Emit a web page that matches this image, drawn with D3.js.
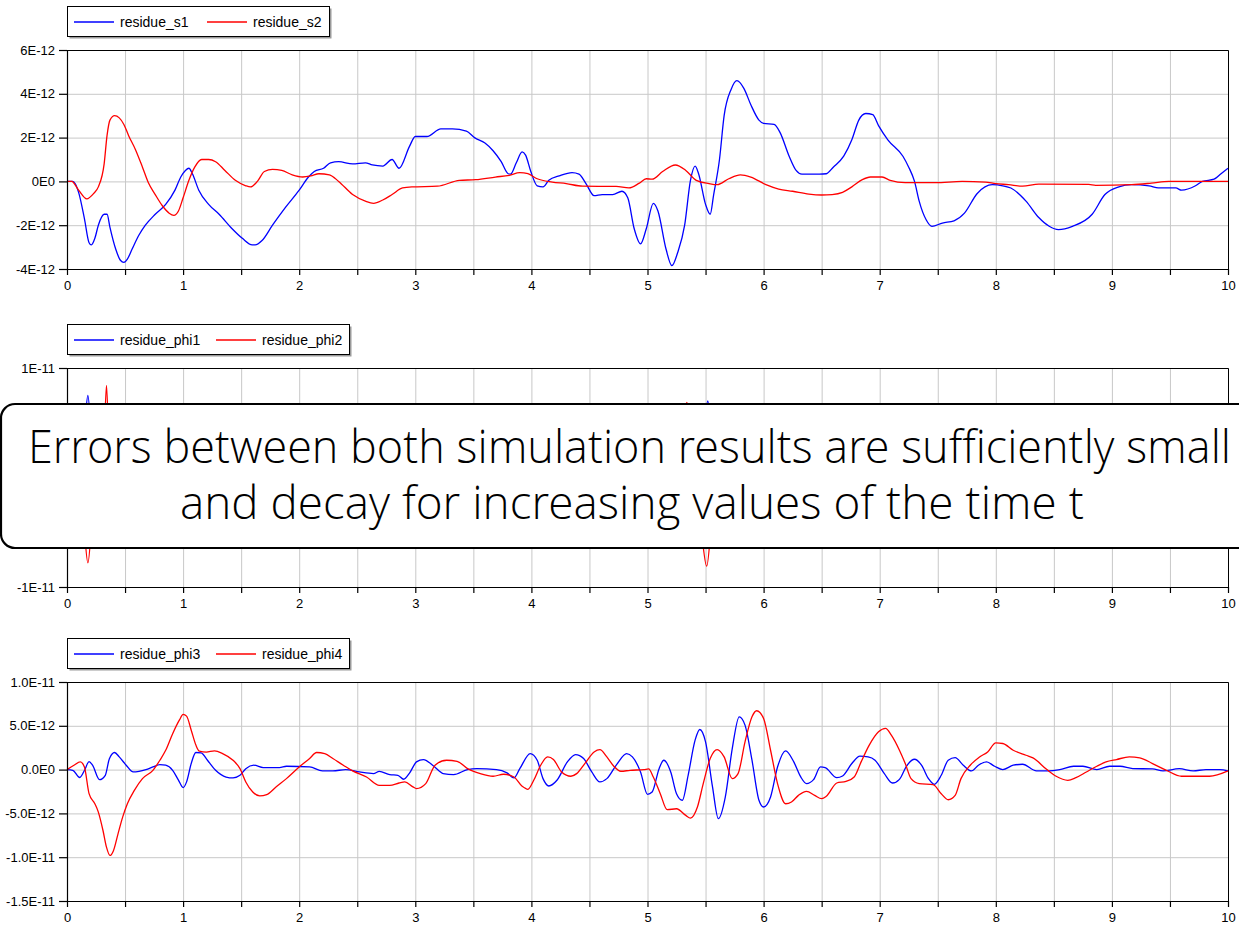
<!DOCTYPE html>
<html lang="en">

<head>
    <meta charset="utf-8">
    <title>Residues</title>
    <script type="text/javascript" src="https://d3js.org/d3.v7.min.js"></script>
    <style type="text/css">
        body {
            margin: 0;
            background: white;
        }

        svg text {
            font-family: "Liberation Sans", Arial, sans-serif;
        }

        .grid line {
            stroke: #c8c8c8;
            stroke-width: 1;
        }

        .callout text {
            font-family: "Open Sans Light", "Open Sans", "Noto Sans", sans-serif;
            font-weight: 300;
        }
    </style>
</head>

<body>
    <svg width="1239" height="927"></svg>
    <script type="text/javascript">
        //Values, t in seconds, residues in units of 1E-12
        const residueS1 = [[0, 0], [0.05, 0], [0.1, -0.5], [0.15, -1.7], [0.19, -2.8], [0.21, -2.9], [0.24, -2.6], [0.27, -2.0],
        [0.32, -1.5], [0.345, -1.5], [0.37, -2.1], [0.42, -3.1], [0.46, -3.6], [0.49, -3.7], [0.52, -3.55], [0.56, -3.1],
        [0.62, -2.45], [0.675, -2.0], [0.76, -1.5], [0.85, -1.05], [0.93, -0.4], [0.98, 0.2], [1.02, 0.5], [1.05, 0.6],
        [1.08, 0.35], [1.135, -0.4], [1.22, -1.05], [1.31, -1.5], [1.42, -2.15], [1.51, -2.6], [1.595, -2.9], [1.62, -2.9],
        [1.68, -2.7], [1.77, -2.0], [1.88, -1.2], [2.0, -0.4], [2.08, 0.2], [2.13, 0.45], [2.21, 0.6], [2.27, 0.85],
        [2.34, 0.9], [2.46, 0.8], [2.57, 0.85], [2.63, 0.75], [2.72, 0.7], [2.8, 1.0], [2.86, 0.6], [2.95, 1.6],
        [3.0, 2.05], [3.1, 2.05], [3.22, 2.4], [3.32, 2.4], [3.44, 2.3], [3.51, 2.0], [3.6, 1.75], [3.67, 1.4],
        [3.74, 0.9], [3.8, 0.35], [3.82, 0.33], [3.87, 0.85], [3.92, 1.35], [3.95, 1.2], [3.995, 0.45], [4.05, -0.2],
        [4.1, -0.25], [4.15, 0.05], [4.24, 0.25], [4.35, 0.4], [4.41, 0.33], [4.47, -0.1], [4.54, -0.65], [4.61, -0.6],
        [4.7, -0.6], [4.78, -0.45], [4.83, -0.75], [4.885, -2.15], [4.94, -2.85], [4.99, -2.15], [5.05, -1.0], [5.09, -1.35],
        [5.16, -3.1], [5.21, -3.85], [5.26, -3.25], [5.32, -2.0], [5.37, 0.05], [5.41, 0.7], [5.44, 0.35], [5.5, -1.05],
        [5.54, -1.5], [5.57, -0.6], [5.62, 1.0], [5.66, 3.0], [5.72, 4.2], [5.77, 4.6], [5.83, 4.25], [5.89, 3.5],
        [5.96, 2.8], [6.0, 2.65], [6.09, 2.6], [6.14, 2.25], [6.22, 1.15], [6.28, 0.5], [6.33, 0.33], [6.48, 0.33],
        [6.54, 0.35], [6.6, 0.65], [6.69, 1.15], [6.76, 1.9], [6.82, 2.8], [6.88, 3.1], [6.94, 3.05], [6.99, 2.55],
        [7.07, 1.9], [7.2, 1.15], [7.25, 0.65], [7.3, 0], [7.34, -0.9], [7.4, -1.75], [7.45, -2.05], [7.54, -1.9],
        [7.64, -1.8], [7.73, -1.45], [7.84, -0.55], [7.97, -0.15], [8.06, -0.2], [8.13, -0.3], [8.26, -0.9], [8.37, -1.65],
        [8.46, -2.05], [8.54, -2.2], [8.66, -2.05], [8.83, -1.5], [8.94, -0.6], [9.06, -0.25], [9.17, -0.15], [9.32, -0.2],
        [9.4, -0.3], [9.55, -0.3], [9.6, -0.4], [9.72, -0.2], [9.78, 0], [9.88, 0.1], [9.94, 0.35], [10, 0.6]];

        const residueS2 = [[0, 0], [0.04, 0], [0.1, -0.4], [0.17, -0.8], [0.23, -0.55], [0.27, -0.25], [0.32, 0.8], [0.345, 2.1],
        [0.37, 2.8], [0.41, 3.0], [0.45, 2.9], [0.49, 2.6], [0.53, 2.1], [0.59, 1.45], [0.65, 0.65], [0.7, -0.05],
        [0.76, -0.6], [0.82, -1.1], [0.88, -1.45], [0.92, -1.55], [0.96, -1.35], [1.0, -0.75], [1.05, 0.05], [1.1, 0.65],
        [1.16, 1.0], [1.22, 1.0], [1.28, 0.9], [1.36, 0.5], [1.45, 0.05], [1.54, -0.2], [1.58, -0.25], [1.64, 0.0],
        [1.7, 0.45], [1.77, 0.55], [1.85, 0.5], [1.94, 0.3], [2.03, 0.2], [2.1, 0.25], [2.17, 0.35], [2.26, 0.3],
        [2.34, 0.0], [2.46, -0.6], [2.57, -0.9], [2.64, -1.0], [2.72, -0.85], [2.8, -0.6], [2.89, -0.3], [2.97, -0.25],
        [3.19, -0.22], [3.38, 0.05], [3.52, 0.08], [3.69, 0.2], [3.81, 0.28], [3.9, 0.4], [3.97, 0.35], [4.05, 0.12],
        [4.18, -0.03], [4.3, -0.1], [4.44, -0.22], [4.73, -0.23], [4.84, -0.3], [4.93, -0.08], [4.99, 0.12], [5.04, 0.1],
        [5.13, 0.45], [5.24, 0.75], [5.33, 0.5], [5.42, 0.05], [5.53, -0.1], [5.6, -0.15], [5.7, 0.12], [5.8, 0.3],
        [5.89, 0.2], [6.02, -0.15], [6.13, -0.35], [6.25, -0.45], [6.39, -0.58], [6.5, -0.62], [6.59, -0.6], [6.68, -0.5],
        [6.76, -0.25], [6.85, 0.08], [6.92, 0.2], [7.02, 0.2], [7.09, 0.05], [7.22, -0.06], [7.48, -0.06], [7.71, 0.0],
        [7.91, -0.03], [8.0, -0.1], [8.11, -0.15], [8.23, -0.22], [8.37, -0.12], [8.8, -0.14], [8.86, -0.18], [9.17, -0.15],
        [9.34, -0.08], [9.49, 0.0], [10, 0.0]];

        const residuePhi1 = [[0, 0], [0.06, -1.5], [0.11, 2.5], [0.15, 4.5], [0.18, 7.5], [0.21, 3.5], [0.26, -3], [0.31, 1.5],
        [0.38, -1.5], [0.48, 0.8], [0.7, -0.6], [1.0, 1.0], [1.5, -0.5], [2.0, 0.3], [3.0, -0.3], [4.0, 0.5], [4.5, -0.5],
        [5.0, 1.0], [5.3, -2.0], [5.42, 3.0], [5.49, 5.0], [5.52, 7.0], [5.55, 3.0], [5.6, -3.0], [5.7, 1.5], [6.0, -0.5],
        [7.0, 0.5], [8.0, -0.3], [9.0, 0.2], [10, 0]];

        const residuePhi2 = [[0, 0], [0.08, 2.0], [0.14, -3.5], [0.18, -7.8], [0.22, -3.0], [0.27, 3.0], [0.31, 1.0], [0.34, 8.4],
        [0.37, 0.5], [0.45, -2.0], [0.6, 1.0], [1.0, -0.5], [1.5, 0.5], [2.0, -0.3], [3.0, 0.4], [4.0, -0.4], [5.0, 0.8],
        [5.25, 2.0], [5.34, 6.85], [5.38, 1.0], [5.45, -3.5], [5.51, -8.1], [5.56, -3.0], [5.65, 2.0], [6.0, -0.5],
        [7.0, 0.4], [8.0, -0.2], [9.0, 0.2], [10, 0]];

        const residuePhi3 = [[0, 0], [0.05, -0.08], [0.11, -0.9], [0.15, -0.1], [0.19, 0.9], [0.22, 0.5], [0.28, -1.15], [0.33, -0.65],
        [0.365, 1.25], [0.41, 1.95], [0.45, 1.45], [0.51, 0.5], [0.57, -0.27], [0.62, -0.2], [0.68, 0], [0.74, 0.3],
        [0.8, 0.57], [0.85, 0.5], [0.91, -0.08], [0.96, -1.2], [1.0, -2.05], [1.03, -1.4], [1.07, 0.7], [1.11, 1.95],
        [1.155, 1.9], [1.21, 1.07], [1.28, -0.08], [1.37, -0.85], [1.43, -0.95], [1.49, -0.65], [1.54, 0.1], [1.61, 0.5],
        [1.69, 0.23], [1.83, 0.23], [1.89, 0.38], [2.09, 0.3], [2.2, -0.15], [2.29, -0.15], [2.4, 0], [2.52, -0.27],
        [2.64, -0.45], [2.69, -0.2], [2.78, -0.57], [2.85, -0.65], [2.9, -1.1], [2.95, -0.4], [3.01, 0.88], [3.07, 1.15],
        [3.16, 0.38], [3.24, -0.45], [3.33, -0.57], [3.45, 0], [3.53, 0.1], [3.7, 0], [3.79, -0.38], [3.85, -0.95],
        [3.9, 0.1], [3.99, 1.83], [4.05, 1.07], [4.1, -1.03], [4.15, -1.87], [4.22, -1.22], [4.31, 0.88], [4.38, 1.72],
        [4.45, 1.26], [4.52, -0.27], [4.59, -1.41], [4.65, -1.03], [4.74, 0.69], [4.82, 1.83], [4.87, 1.45], [4.94, -0.27],
        [5.0, -2.82], [5.04, -2.56], [5.1, 0.11], [5.14, 1.07], [5.2, -0.27], [5.25, -2.75], [5.3, -3.5], [5.35, -0.65],
        [5.41, 3.36], [5.45, 4.58], [5.5, 3.17], [5.56, -1.98], [5.61, -5.6], [5.67, -3.13], [5.73, 2.4], [5.79, 6.03],
        [5.84, 5.08], [5.9, 1.07], [5.96, -3.5], [6.0, -4.27], [6.06, -3.13], [6.12, 0.3], [6.19, 2.14], [6.26, 0.88],
        [6.32, -0.84], [6.37, -1.6], [6.43, -1.15], [6.49, 0.3], [6.53, 0.23], [6.63, -0.92], [6.68, -0.73], [6.76, 0.69],
        [6.83, 1.53], [6.9, 1.45], [6.96, 1.07], [7.04, -0.46], [7.11, -1.53], [7.17, -1.11], [7.23, 0.38], [7.3, 1.18],
        [7.36, 0.5], [7.42, -1.03], [7.47, -1.68], [7.53, -0.65], [7.59, 1.07], [7.65, 1.37], [7.72, 0.5], [7.79, -0.15],
        [7.85, 0.5], [7.92, 0.88], [7.99, 0.38], [8.06, 0], [8.15, 0.5], [8.23, 0.61], [8.35, -0.15], [8.46, -0.15],
        [8.55, 0], [8.67, 0.38], [8.75, 0.38], [8.87, 0], [8.98, 0.38], [9.07, 0.38], [9.18, 0.11], [9.35, 0.08],
        [9.44, -0.15], [9.58, 0.11], [9.7, -0.15], [9.81, 0], [9.93, 0], [10, -0.15]];

        const residuePhi4 = [[0, 0], [0.06, 0.5], [0.115, 0.88], [0.15, 0.3], [0.19, -2.75], [0.24, -3.9], [0.27, -4.85], [0.31, -6.95],
        [0.34, -8.85], [0.37, -9.8], [0.4, -9.25], [0.44, -7.3], [0.48, -5.4], [0.52, -3.9], [0.58, -2.37], [0.65, -1.03],
        [0.74, -0.08], [0.8, 1.07], [0.85, 2.2], [0.91, 4.1], [0.97, 5.7], [1.0, 6.3], [1.03, 6.1], [1.07, 4.5],
        [1.11, 2.8], [1.14, 2.1], [1.2, 2.0], [1.27, 2.14], [1.34, 1.83], [1.43, 1.07], [1.49, 0.11], [1.54, -1.41],
        [1.6, -2.56], [1.66, -3.0], [1.72, -2.86], [1.8, -1.98], [1.89, -1.03], [2.0, 0.3], [2.09, 1.26], [2.15, 1.95],
        [2.22, 1.83], [2.29, 1.26], [2.38, 0.5], [2.46, -0.15], [2.58, -0.84], [2.69, -1.8], [2.78, -1.8], [2.86, -1.53],
        [2.91, -1.41], [2.98, -1.98], [3.01, -2.17], [3.09, -1.6], [3.17, 0.5], [3.27, 1.07], [3.36, 0.95], [3.45, 0.11],
        [3.56, -0.46], [3.67, -0.76], [3.76, -0.53], [3.85, -0.84], [3.92, -1.9], [3.97, -2.25], [4.02, -1.22], [4.08, 0.5],
        [4.14, 1.45], [4.19, 1.15], [4.26, -0.27], [4.34, -0.76], [4.39, -0.46], [4.46, 0.69], [4.54, 2.02], [4.59, 2.29],
        [4.65, 1.45], [4.71, 0.38], [4.77, -0.19], [4.85, -0.08], [4.97, 0], [5.01, 0.08], [5.05, -0.84], [5.11, -2.75],
        [5.17, -4.58], [5.25, -4.47], [5.33, -5.23], [5.37, -5.53], [5.43, -4.27], [5.48, -1.6], [5.54, 1.26], [5.6, 2.29],
        [5.66, 1.45], [5.73, -1.03], [5.78, -0.46], [5.84, 3.17], [5.9, 6.03], [5.94, 6.72], [6.0, 5.84], [6.06, 2.21],
        [6.12, -1.6], [6.19, -3.9], [6.24, -3.7], [6.3, -2.94], [6.37, -2.48], [6.44, -2.94], [6.5, -3.32], [6.54, -3.05],
        [6.63, -1.53], [6.71, -1.34], [6.78, -0.84], [6.84, 0.88], [6.91, 2.79], [6.99, 4.31], [7.05, 4.7], [7.1, 3.93],
        [7.17, 2.21], [7.22, 0.69], [7.27, -1.03], [7.34, -1.6], [7.46, -1.72], [7.53, -2.75], [7.59, -3.44], [7.65, -2.94],
        [7.7, -1.03], [7.78, 0.5], [7.86, 1.45], [7.93, 2.02], [8.0, 3.05], [8.06, 2.98], [8.15, 2.21], [8.26, 1.64],
        [8.32, 1.34], [8.44, 0], [8.52, -0.76], [8.62, -1.22], [8.69, -0.92], [8.78, -0.27], [8.87, 0.38], [8.95, 0.88],
        [9.04, 1.15], [9.15, 1.45], [9.24, 1.34], [9.35, 0.69], [9.47, -0.08], [9.6, -0.76], [9.84, -0.76], [10, -0.15]];

        //Tick values and labels (the inner phi1/phi2 ticks sit behind the note box)
        const xTicks = d3.range(0, 10.01, 0.5);
        const xLabels = ['0', '1', '2', '3', '4', '5', '6', '7', '8', '9', '10'];
        const yTicksS = [6, 4, 2, 0, -2, -4];
        const yLabelsS = ['6E-12', '4E-12', '2E-12', '0E0', '-2E-12', '-4E-12'];
        const yTicksPhi12 = [10, -10];
        const yLabelsPhi12 = ['1E-11', '-1E-11'];
        const yTicksPhi34 = [10, 5, 0, -5, -10, -15];
        const yLabelsPhi34 = ['1.0E-11', '5.0E-12', '0.0E0', '-5.0E-12', '-1.0E-11', '-1.5E-11'];

        const noteLines = ['Errors between both simulation results are sufficiently small',
            'and decay for increasing values of the time t'];

        //Layout
        const svg = d3.select('svg');
        const left = 67, right = 1228, plotH = 219;
        const colors = ['#0000ff', '#ff0000'];

        const panels = [
            { top: 50, series: [residueS1, residueS2], names: ['residue_s1', 'residue_s2'], legendW: 262, ticks: yTicksS, labels: yLabelsS },
            { top: 368, series: [residuePhi1, residuePhi2], names: ['residue_phi1', 'residue_phi2'], legendW: 282, ticks: yTicksPhi12, labels: yLabelsPhi12 },
            { top: 682, series: [residuePhi3, residuePhi4], names: ['residue_phi3', 'residue_phi4'], legendW: 282, ticks: yTicksPhi34, labels: yLabelsPhi34 }
        ];

        const xScale = d3.scaleLinear().domain([0, 10]).range([left, right]);

        panels.forEach(p => {
            const yScale = d3.scaleLinear()
                .domain(d3.extent(p.ticks))
                .range([p.top + plotH, p.top]);
            const g = svg.append('g');

            //Grid
            g.append('g')
                .attr('class', 'grid')
                .attr('transform', 'translate(0,' + (p.top + plotH) + ')')
                .call(d3.axisBottom(xScale).tickValues(xTicks).tickSize(-plotH).tickFormat(''))
                .call(a => a.select('.domain').remove());
            g.append('g')
                .attr('class', 'grid')
                .attr('transform', 'translate(' + left + ',0)')
                .call(d3.axisLeft(yScale).tickValues(p.ticks).tickSize(-(right - left)).tickFormat(''))
                .call(a => a.select('.domain').remove());

            //Frame top and right
            g.append('path')
                .attr('d', 'M' + left + ',' + (p.top + 0.5) + 'H' + (right + 0.5) + 'V' + (p.top + plotH))
                .attr('fill', 'none')
                .attr('stroke', 'black');

            //Lines
            const line = d3.line()
                .x(d => xScale(d[0]))
                .y(d => yScale(d[1]))
                .curve(d3.curveMonotoneX);
            p.series.forEach((s, i) => {
                g.append('path')
                    .datum(s)
                    .attr('d', line)
                    .attr('fill', 'none')
                    .attr('stroke', colors[i])
                    .attr('stroke-width', 1.3);
            });

            //Axes
            g.append('g')
                .attr('transform', 'translate(0,' + (p.top + plotH) + ')')
                .call(d3.axisBottom(xScale).tickValues(xTicks).tickSize(6).tickSizeOuter(0).tickPadding(6)
                    .tickFormat(d => Number.isInteger(d) ? xLabels[d] : ''))
                .call(a => a.selectAll('text').attr('font-size', 13).attr('font-family', null))
                .call(a => a.selectAll('.domain, line').attr('stroke-width', 1.2));
            g.append('g')
                .attr('transform', 'translate(' + left + ',0)')
                .call(d3.axisLeft(yScale).tickValues(p.ticks).tickSize(8).tickSizeOuter(0).tickPadding(4)
                    .tickFormat((d, i) => p.labels[i]))
                .call(a => a.selectAll('text').attr('font-size', 13).attr('font-family', null))
                .call(a => a.selectAll('.domain, line').attr('stroke-width', 1.2));

            //Legend
            const ly = p.top - 44;
            g.append('rect')
                .attr('x', left + 2.5).attr('y', ly + 2.5)
                .attr('width', p.legendW).attr('height', 30)
                .attr('fill', '#9a9a9a');
            g.append('rect')
                .attr('x', left + 0.5).attr('y', ly + 0.5)
                .attr('width', p.legendW).attr('height', 30)
                .attr('fill', 'white').attr('stroke', 'black');
            const itemX = [left + 7, left + (p.legendW > 270 ? 149 : 140)];
            p.names.forEach((name, i) => {
                g.append('line')
                    .attr('x1', itemX[i]).attr('x2', itemX[i] + 40)
                    .attr('y1', ly + 16).attr('y2', ly + 16)
                    .attr('stroke', colors[i]).attr('stroke-width', 1.3);
                g.append('text')
                    .attr('x', itemX[i] + 46).attr('y', ly + 21)
                    .attr('font-size', 14)
                    .text(name);
            });
        });

        //Callout box over the middle panel
        const note = svg.append('g').attr('class', 'callout');
        note.append('rect')
            .attr('x', 1).attr('y', 404)
            .attr('width', 1300).attr('height', 144)
            .attr('rx', 14)
            .attr('fill', 'white')
            .attr('stroke', 'black')
            .attr('stroke-width', 2.2);
        note.append('text')
            .attr('x', 28).attr('y', 463)
            .attr('font-size', 46)
            .attr('textLength', 1203)
            .attr('lengthAdjust', 'spacingAndGlyphs')
            .text(noteLines[0]);
        note.append('text')
            .attr('x', 180).attr('y', 519)
            .attr('font-size', 46)
            .attr('textLength', 904)
            .attr('lengthAdjust', 'spacingAndGlyphs')
            .text(noteLines[1]);
    </script>
</body>

</html>
